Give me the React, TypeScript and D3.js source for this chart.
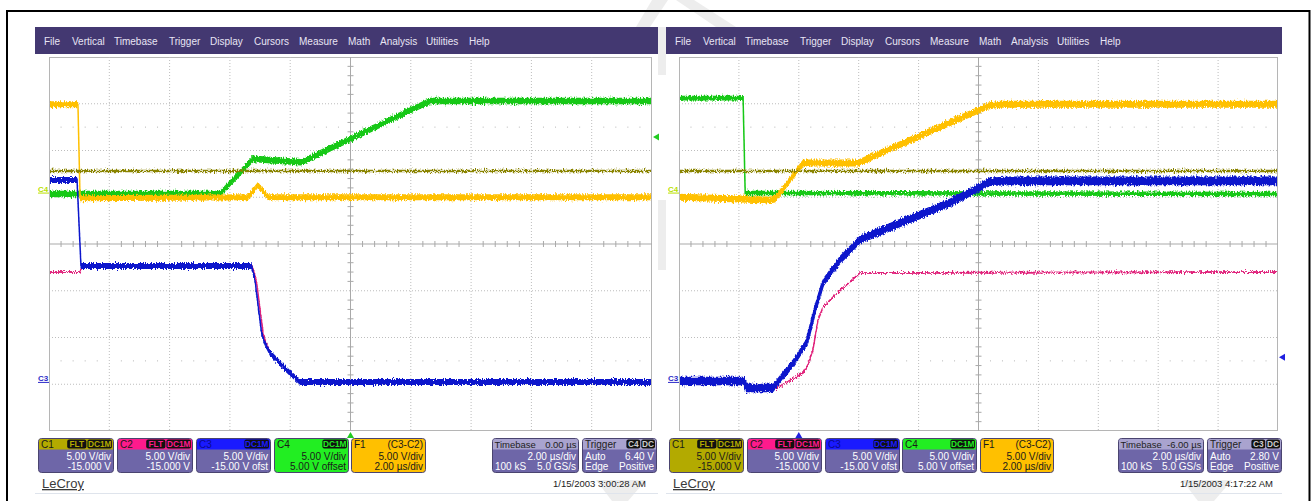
import React from 'react';
import * as d3 from 'd3';

const W = 1311;
const H = 501;

// ---------- data (time in µs, vertical position in divisions from screen centre, + = up) ----------
const menuItems = ['File', 'Vertical', 'Timebase', 'Trigger', 'Display', 'Cursors', 'Measure', 'Math', 'Analysis', 'Utilities', 'Help'];
const menuOffsets = [9, 37, 79, 134, 175, 219, 264, 313, 345, 391, 434];

const leftTime = [-10, 10];
const rightTime = [-4, 16];
const vDivs = [-4, 4];

// Left screen
const leftC1 = [[-10, 1.56], [10, 1.56]];
const leftC2 = [[-10, -0.6], [-8.97, -0.6], [-8.9, -0.47], [-3.26, -0.47], [-3.12, -0.8], [-3.0, -1.4], [-2.9, -1.92], [-2.8, -2.12], [-2.65, -2.33], [-2.34, -2.55], [-2.01, -2.76], [-1.67, -2.95], [10, -2.95]];
const leftC3 = [[-10, 1.37], [-9.07, 1.37], [-8.94, -0.47], [-3.28, -0.47], [-3.17, -0.77], [-3.06, -1.34], [-2.95, -1.9], [-2.84, -2.12], [-2.67, -2.33], [-2.34, -2.55], [-2.01, -2.76], [-1.67, -2.95], [10, -2.95]];
const leftC4 = [[-10, 1.07], [-4.33, 1.07], [-3.23, 1.82], [-1.64, 1.75], [2.64, 3.06], [10, 3.06]];
const leftF1 = [[-10, 2.99], [-9.04, 2.99], [-8.97, 0.98], [-3.4, 1.0], [-3.07, 1.26], [-2.74, 1.0], [10, 1.0]];

// Right screen
const rightC1 = [[-4, 1.56], [16, 1.56]];
const rightC2 = [[-4, -2.93], [-1.8, -2.93], [-1.77, -3.08], [-0.79, -3.1], [0.14, -2.76], [0.3, -2.59], [0.47, -2.27], [0.64, -1.63], [0.81, -1.35], [1.28, -1.05], [2.04, -0.62], [16, -0.6]];
const rightC3 = [[-4, -2.93], [-1.8, -2.93], [-1.77, -3.08], [-0.86, -3.08], [-0.19, -2.55], [0.27, -2.1], [0.54, -1.41], [0.81, -0.83], [1.38, -0.34], [2.04, 0.09], [3.38, 0.45], [5.05, 0.88], [6.38, 1.33], [7.05, 1.35], [16, 1.35]];
const rightC4 = [[-4, 3.12], [-1.86, 3.12], [-1.79, 1.09], [16, 1.07]];
const rightF1 = [[-4, 1.0], [-1.96, 0.96], [-0.96, 0.94], [-0.79, 0.96], [0.14, 1.73], [1.98, 1.73], [6.32, 2.95], [6.72, 2.99], [16, 2.99]];

const leftTrigger = { time: 0, level: 2.29 };
const rightTrigger = { time: 0, level: -2.42 };

const leftBoxes = [
  { name: 'C1', color: '#b3aa00', full: false, badges: ['FLT', 'DC1M'], lines: ['5.00 V/div', '-15.000 V'] },
  { name: 'C2', color: '#ff1a8c', full: false, badges: ['FLT', 'DC1M'], lines: ['5.00 V/div', '-15.000 V'] },
  { name: 'C3', color: '#1a1aff', full: false, badges: ['DC1M'], lines: ['5.00 V/div', '-15.00 V ofst'] },
  { name: 'C4', color: '#22ee22', full: true, badges: ['DC1M'], lines: ['5.00 V/div', '5.00 V offset'] },
  { name: 'F1', color: '#ffc000', full: true, right: '(C3-C2)', badges: [], lines: ['5.00 V/div', '2.00 µs/div'] },
];
const rightBoxes = [
  { name: 'C1', color: '#b3aa00', full: true, badges: ['FLT', 'DC1M'], lines: ['5.00 V/div', '-15.000 V'] },
  { name: 'C2', color: '#ff1a8c', full: false, badges: ['FLT', 'DC1M'], lines: ['5.00 V/div', '-15.000 V'] },
  { name: 'C3', color: '#1a1aff', full: false, badges: ['DC1M'], lines: ['5.00 V/div', '-15.00 V ofst'] },
  { name: 'C4', color: '#22ee22', full: false, badges: ['DC1M'], lines: ['5.00 V/div', '5.00 V offset'] },
  { name: 'F1', color: '#ffc000', full: true, right: '(C3-C2)', badges: [], lines: ['5.00 V/div', '2.00 µs/div'] },
];
const leftTimebase = ['0.00 µs', '2.00 µs/div', '100 kS', '5.0 GS/s'];
const rightTimebase = ['-6.00 µs', '2.00 µs/div', '100 kS', '5.0 GS/s'];
const leftTrig = ['C4', 'DC', 'Auto', '6.40 V', 'Edge', 'Positive'];
const rightTrig = ['C3', 'DC', 'Auto', '2.80 V', 'Edge', 'Positive'];
const leftDate = '1/15/2003 3:00:28 AM';
const rightDate = '1/15/2003 4:17:22 AM';

// ---------- layout ----------
const FONT = '"Liberation Sans", Arial, sans-serif';
const MENU_Y = 27, MENU_H = 27;
const PLOT_Y = 57, PLOT_H = 374;
const BOX_Y = 438, BOX_H = 35;
const FS = 10;

const panels = [
  {
    menuX: 35, menuW: 623, plotX: 49, plotW: 603, time: leftTime,
    traces: [
      { d: leftC4, c: '#14c814', h: 3.3, w: 1.5 },
      { d: leftC2, c: '#e0207a', h: 0.8, w: 1.5 },
      { d: leftC3, c: '#0a16cc', h: 3, w: 1.5 },
      { d: leftF1, c: '#ffc000', h: 3, w: 1.5 },
      { d: leftC1, c: '#8a8400', h: 1.2, w: 1.2 },
    ],
    labels: [{ t: 'C4', v: 1.1, c: '#b8e000' }, { t: 'C3', v: -2.95, c: '#2a2ac8' }],
    trig: leftTrigger, trigColor: '#22cc22',
    boxX: [[38, 114], [117, 193], [196, 271], [274, 349], [351, 426]], boxes: leftBoxes,
    tbX: [492, 579], tb: leftTimebase, trX: [582, 657], tr: leftTrig,
    logoX: 42, dateX: 646, date: leftDate, lineX: [35, 658],
  },
  {
    menuX: 666, menuW: 616, plotX: 679, plotW: 599, time: rightTime,
    traces: [
      { d: rightC4, c: '#14c814', h: 2.3, w: 1.5 },
      { d: rightC2, c: '#e0207a', h: 0.8, w: 1.5 },
      { d: rightC3, c: '#0a16cc', h: 4.3, w: 3.5 },
      { d: rightF1, c: '#ffc000', h: 3.5, w: 2 },
      { d: rightC1, c: '#8a8400', h: 1.2, w: 1.2 },
    ],
    labels: [{ t: 'C4', v: 1.1, c: '#b8e000' }, { t: 'C3', v: -2.95, c: '#2a2ac8' }],
    trig: rightTrigger, trigColor: '#2020e0',
    boxX: [[669, 744], [747, 822], [825, 900], [902, 977], [980, 1054]], boxes: rightBoxes,
    tbX: [1118, 1204], tb: rightTimebase, trX: [1207, 1282], tr: rightTrig,
    logoX: 673, dateX: 1273, date: rightDate, lineX: [666, 1282],
  },
];

const PURPLE = '#6e66a8';
const HEADER_LIGHT = '#a9a3cf';

function headerPath(x0: number, x1: number) {
  return `M${x0 + 1},${BOX_Y + 11.5} V${BOX_Y + 3} Q${x0 + 1},${BOX_Y + 1} ${x0 + 3},${BOX_Y + 1} H${x1 - 3} Q${x1 - 1},${BOX_Y + 1} ${x1 - 1},${BOX_Y + 3} V${BOX_Y + 11.5} Z`;
}

function Badge({ x, y, text, color }: any) {
  const w = text.length * 5.4 + 3;
  return (
    <g>
      <rect x={x - w} y={y} width={w} height={9} rx={2} fill="#111" />
      <text x={x - w / 2} y={y + 7.6} fontSize={8.3} fontWeight="bold" textAnchor="middle" fill={color} fontFamily={FONT}>{text}</text>
    </g>
  );
}

function ChannelBox({ x0, x1, box }: any) {
  const w = x1 - x0;
  const dark = '#1a1a1a';
  let bx = x1 - 2;
  const badges = [...box.badges].reverse().map((b: string, i: number) => {
    const el = <Badge key={i} x={bx} y={BOX_Y + 1.5} text={b} color={box.color} />;
    bx -= b.length * 5.4 + 3 + 1;
    return el;
  });
  const bodyText = box.full ? dark : '#ffffff';
  return (
    <g fontFamily={FONT}>
      <rect x={x0 + 0.5} y={BOX_Y + 0.5} width={w - 1} height={BOX_H - 1} rx={3} fill={box.full ? box.color : PURPLE} stroke="#4a4470" />
      {!box.full && <path d={headerPath(x0, x1)} fill={box.color} />}
      <text x={x0 + 3} y={BOX_Y + 9.8} fontSize={FS} fill={box.name === 'C3' && !box.full ? '#0a0a90' : dark}>{box.name}</text>
      {box.right && <text x={x1 - 3} y={BOX_Y + 9.8} fontSize={FS} textAnchor="end" fill={dark}>{box.right}</text>}
      {badges}
      <text x={x1 - 3} y={BOX_Y + 21.5} fontSize={FS} textAnchor="end" fill={bodyText}>{box.lines[0]}</text>
      <text x={x1 - 3} y={BOX_Y + 32} fontSize={FS} textAnchor="end" fill={bodyText}>{box.lines[1]}</text>
    </g>
  );
}

function TimebaseBox({ x0, x1, v }: any) {
  return (
    <g fontFamily={FONT}>
      <rect x={x0 + 0.5} y={BOX_Y + 0.5} width={x1 - x0 - 1} height={BOX_H - 1} rx={3} fill={PURPLE} stroke="#4a4470" />
      <path d={headerPath(x0, x1)} fill={HEADER_LIGHT} />
      <text x={x0 + 2.5} y={BOX_Y + 9.8} fontSize={9.5} fill="#222">Timebase</text>
      <text x={x1 - 2.5} y={BOX_Y + 9.8} fontSize={9.5} fill="#222" textAnchor="end">{v[0]}</text>
      <text x={x1 - 3} y={BOX_Y + 21.5} fontSize={FS} fill="#fff" textAnchor="end">{v[1]}</text>
      <text x={x0 + 3} y={BOX_Y + 32} fontSize={FS} fill="#fff">{v[2]}</text>
      <text x={x1 - 3} y={BOX_Y + 32} fontSize={FS} fill="#fff" textAnchor="end">{v[3]}</text>
    </g>
  );
}

function TriggerBox({ x0, x1, v }: any) {
  return (
    <g fontFamily={FONT}>
      <rect x={x0 + 0.5} y={BOX_Y + 0.5} width={x1 - x0 - 1} height={BOX_H - 1} rx={3} fill={PURPLE} stroke="#4a4470" />
      <path d={headerPath(x0, x1)} fill={HEADER_LIGHT} />
      <text x={x0 + 3} y={BOX_Y + 9.8} fontSize={FS} fill="#222">Trigger</text>
      <Badge x={x1 - 2} y={BOX_Y + 1.5} text={v[1]} color="#ccc" />
      <Badge x={x1 - 2 - (v[1].length * 5.4 + 4)} y={BOX_Y + 1.5} text={v[0]} color="#ccc" />
      <text x={x0 + 3} y={BOX_Y + 21.5} fontSize={FS} fill="#fff">{v[2]}</text>
      <text x={x1 - 3} y={BOX_Y + 21.5} fontSize={FS} fill="#fff" textAnchor="end">{v[3]}</text>
      <text x={x0 + 3} y={BOX_Y + 32} fontSize={FS} fill="#fff">{v[4]}</text>
      <text x={x1 - 3} y={BOX_Y + 32} fontSize={FS} fill="#fff" textAnchor="end">{v[5]}</text>
    </g>
  );
}

function Panel({ p, idx }: any) {
  const xs = d3.scaleLinear().domain(p.time).range([p.plotX, p.plotX + p.plotW]);
  const ys = d3.scaleLinear().domain(vDivs).range([PLOT_Y + PLOT_H, PLOT_Y]);
  const line = d3.line<number[]>().x((d) => xs(d[0])).y((d) => ys(d[1]));
  const step = (p.time[1] - p.time[0]) / 10;
  const vGrid = d3.range(1, 10).map((i) => p.time[0] + i * step);
  const hGrid = d3.range(-3, 4);
  const tCenter = p.time[0] + 5 * step;
  const minorX = d3.range(1, 50).map((i) => p.time[0] + (i * step) / 5).filter((_, i) => (i + 1) % 5 !== 0);
  const minorY = d3.range(1, 40).map((i) => -4 + i / 5).filter((_, i) => (i + 1) % 5 !== 0);
  const clipId = `clip${idx}`;
  const right = p.plotX + p.plotW;
  return (
    <g>
      {/* menu bar */}
      <rect x={p.menuX} y={MENU_Y} width={p.menuW} height={MENU_H} fill="#433871" />
      {menuItems.map((m, i) => (
        <text key={m} x={p.menuX + menuOffsets[i]} y={MENU_Y + 18} fontSize={10} fill="#e8e5f4" fontFamily={FONT}>{m}</text>
      ))}
      {/* plot */}
      <rect x={p.plotX + 0.5} y={PLOT_Y + 0.5} width={p.plotW - 1} height={PLOT_H - 1} fill="#fff" stroke="#b5b5b5" />
      {vGrid.filter((t) => Math.abs(t - tCenter) > 1e-6).map((t) => (
        <line key={`v${t}`} x1={xs(t)} x2={xs(t)} y1={PLOT_Y} y2={PLOT_Y + PLOT_H} stroke="#bdbdbd" strokeDasharray="1,2" />
      ))}
      {hGrid.filter((v) => v !== 0).map((v) => (
        <line key={`h${v}`} x1={p.plotX} x2={right} y1={ys(v)} y2={ys(v)} stroke="#bdbdbd" strokeDasharray="1,2" />
      ))}
      {[2.5, -2.5].map((v) =>
        minorX.map((t) => <rect key={`d${v}${t}`} x={xs(t) - 0.5} y={ys(v) - 0.5} width={1} height={1} fill="#b5b5b5" />)
      )}
      <line x1={xs(tCenter)} x2={xs(tCenter)} y1={PLOT_Y} y2={PLOT_Y + PLOT_H} stroke="#a9a9a9" />
      <line x1={p.plotX} x2={right} y1={ys(0)} y2={ys(0)} stroke="#a9a9a9" />
      {minorX.map((t) => (
        <line key={`mx${t}`} x1={xs(t)} x2={xs(t)} y1={ys(0) - 3} y2={ys(0) + 3} stroke="#a9a9a9" />
      ))}
      {minorY.map((v) => (
        <line key={`my${v}`} x1={xs(tCenter) - 3} x2={xs(tCenter) + 3} y1={ys(v)} y2={ys(v)} stroke="#a9a9a9" />
      ))}
      {/* traces: a vertical noise band (area) plus the centre line */}
      <g clipPath={`url(#${clipId})`}>
        {p.traces.map((tr: any, i: number) => {
          const band = d3.area<number[]>().x((d) => xs(d[0])).y0((d) => ys(d[1]) - tr.h).y1((d) => ys(d[1]) + tr.h);
          return (
            <g key={i} filter="url(#noise)">
              <path d={band(tr.d as any) || ''} fill={tr.c} />
              <path d={line(tr.d as any) || ''} fill="none" stroke={tr.c} strokeWidth={tr.w} strokeLinejoin="round" />
            </g>
          );
        })}
      </g>
      {/* channel labels */}
      {p.labels.map((l: any) => (
        <g key={l.t}>
          <text x={p.plotX - 11} y={ys(l.v) - 1} fontSize={8} fontWeight="bold" fill={l.c} fontFamily={FONT}>{l.t}</text>
          <line x1={p.plotX - 11} x2={p.plotX} y1={ys(l.v) + 0.5} y2={ys(l.v) + 0.5} stroke={l.c} />
        </g>
      ))}
      {/* trigger markers */}
      <path d={`M${right + 1},${ys(p.trig.level)} l6,-3.5 v7 z`} fill={p.trigColor} />
      <path d={`M${xs(p.trig.time)},${PLOT_Y + PLOT_H + 1} l-3.5,6 h7 z`} fill={p.trigColor} />
      {/* boxes */}
      {p.boxes.map((b: any, i: number) => (
        <ChannelBox key={b.name} x0={p.boxX[i][0]} x1={p.boxX[i][1]} box={b} />
      ))}
      <TimebaseBox x0={p.tbX[0]} x1={p.tbX[1]} v={p.tb} />
      <TriggerBox x0={p.trX[0]} x1={p.trX[1]} v={p.tr} />
      <text x={p.logoX} y={488} fontSize={13} fill="#3a3a3a" fontFamily={FONT} textDecoration="underline">LeCroy</text>
      <text x={p.dateX} y={487} fontSize={9.5} fill="#222" fontFamily={FONT} textAnchor="end">{p.date}</text>
      <line x1={p.lineX[0]} x2={p.lineX[1]} y1={493.5} y2={493.5} stroke="#dfe4ec" />
      <defs>
        <clipPath id={clipId}>
          <rect x={p.plotX + 1} y={PLOT_Y + 1} width={p.plotW - 2} height={PLOT_H - 2} />
        </clipPath>
      </defs>
    </g>
  );
}

export default function App() {
  return (
    <svg width={W} height={H} style={{ position: 'absolute', left: 0, top: 0, background: '#fff' }}>
      <defs>
        <filter id="noise" filterUnits="userSpaceOnUse" x={0} y={0} width={W} height={H}>
          <feTurbulence type="fractalNoise" baseFrequency="1.1 0.4" numOctaves={2} seed={7} result="t" />
          <feColorMatrix in="t" type="matrix" values="0 0 0 0 0.5  0 1 0 0 0  0 0 0 0 0  0 0 0 0 1" result="m" />
          <feDisplacementMap in="SourceGraphic" in2="m" scale={6} xChannelSelector="R" yChannelSelector="G" />
        </filter>
      </defs>
      <rect x={0} y={0} width={W} height={H} fill="#fff" />
      {/* faint background watermark fragments */}
      <g fill="#ededed">
        <path d="M636,27 L652,0 L668,0 L650,27 Z" />
        <path d="M676,0 L694,0 L736,27 L716,27 Z" />
        <rect x={658} y={27} width={8} height={48} />
        <rect x={658} y={200} width={8} height={70} />
        <path d="M596,480 L646,480 L628,501 L612,501 Z" />
        <path d="M1182,480 L1232,480 L1214,501 L1198,501 Z" />
      </g>
      {/* outer frame */}
      <path d={`M7,${H + 2} V11 H1309.5 V${H + 2}`} fill="none" stroke="#000" strokeWidth={2} />
      {panels.map((p, i) => (
        <Panel key={i} p={p} idx={i} />
      ))}
    </svg>
  );
}
